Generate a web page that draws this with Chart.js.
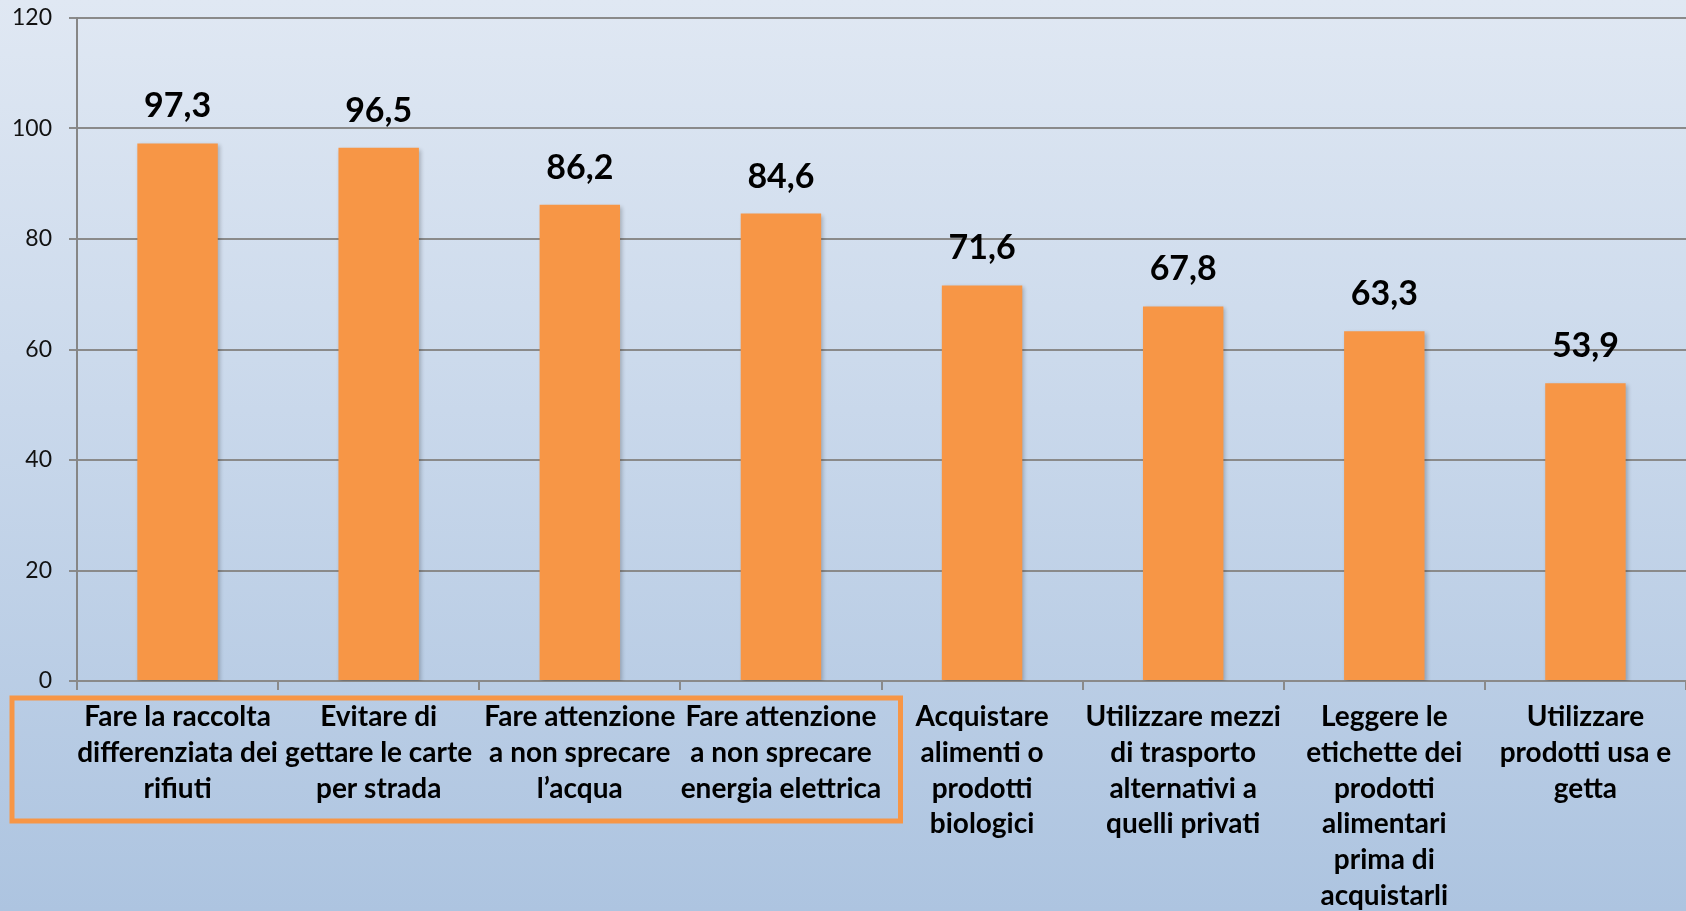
<!DOCTYPE html>
<html>
<head>
<meta charset="utf-8">
<script src="https://cdn.jsdelivr.net/npm/chart.js@4"></script>
<style>
  html, body { margin: 0; padding: 0; }
  body {
    width: 1686px; height: 911px; overflow: hidden;
    background: linear-gradient(to bottom, #e0e8f3 0%, #c9d8eb 45%, #adc4e0 100%);
  }
  canvas { display: block; }
</style>
</head>
<body>
<canvas id="chart" width="1686" height="911"></canvas>
<script>
// --- Data ---
const categories = [
  ["Fare la raccolta", "differenziata dei", "rifiuti"],
  ["Evitare di", "gettare le carte", "per strada"],
  ["Fare attenzione", "a non sprecare", "l\u2019acqua"],
  ["Fare attenzione", "a non sprecare", "energia elettrica"],
  ["Acquistare", "alimenti o", "prodotti", "biologici"],
  ["Utilizzare mezzi", "di trasporto", "alternativi a", "quelli privati"],
  ["Leggere le", "etichette dei", "prodotti", "alimentari", "prima di", "acquistarli"],
  ["Utilizzare", "prodotti usa e", "getta"]
];
const values = [97.3, 96.5, 86.2, 84.6, 71.6, 67.8, 63.3, 53.9];
const yTicks = [0, 20, 40, 60, 80, 100, 120];

const fontFamily = "Lato, 'Open Sans', sans-serif";

// value labels above the bars, comma decimals
const valueLabels = {
  id: 'valueLabels',
  afterDatasetsDraw(chart) {
    const ctx = chart.ctx;
    const meta = chart.getDatasetMeta(0);
    ctx.save();
    ctx.font = "bold 34px " + fontFamily;
    ctx.fillStyle = '#000';
    ctx.textAlign = 'center';
    ctx.textBaseline = 'bottom';
    meta.data.forEach((bar, i) => {
      ctx.fillText(values[i].toFixed(1).replace('.', ','), bar.x, bar.y - 20);
    });
    ctx.restore();
  }
};

// bar shadow
const barShadow = {
  id: 'barShadow',
  beforeDatasetsDraw(chart) {
    const ctx = chart.ctx;
    ctx.save();
    ctx.shadowColor = 'rgba(0,0,0,0.22)';
    ctx.shadowBlur = 4;
    ctx.shadowOffsetX = 2;
    ctx.shadowOffsetY = 2;
  },
  afterDatasetsDraw(chart) {
    chart.ctx.restore();
  }
};

// orange box around the first four categories
const highlightBox = {
  id: 'highlightBox',
  afterDraw(chart) {
    const ctx = chart.ctx;
    const x = chart.scales.x;
    const half = (x.getPixelForValue(1) - x.getPixelForValue(0)) / 2;
    const left = chart.chartArea.left - 65;
    const right = x.getPixelForValue(3) + half + 19;
    const top = chart.chartArea.bottom + 17;
    const bottom = chart.chartArea.bottom + 140;
    ctx.save();
    ctx.strokeStyle = '#f79646';
    ctx.lineWidth = 5;
    ctx.strokeRect(left, top, right - left, bottom - top);
    ctx.restore();
  }
};

const ctx = document.getElementById('chart').getContext('2d');
new Chart(ctx, {
  type: 'bar',
  data: {
    labels: categories,
    datasets: [{
      data: values,
      backgroundColor: '#f79646',
      borderWidth: 0,
      barPercentage: 0.4,
      categoryPercentage: 1.0
    }]
  },
  options: {
    responsive: false,
    animation: false,
    devicePixelRatio: 1,
    layout: { padding: { top: 18, right: 0, left: 0, bottom: 0 } },
    plugins: {
      legend: { display: false },
      tooltip: { enabled: false }
    },
    scales: {
      y: {
        min: 0,
        max: 120,
        afterBuildTicks(scale) {
          scale.ticks = yTicks.map(v => ({ value: v }));
        },
        afterFit(scale) {
          scale.width = 77;
          scale.paddingTop = 0;
          scale.paddingBottom = 0;
        },
        border: { color: '#868686', width: 2 },
        grid: { color: '#8a8a8a', lineWidth: 2, tickLength: 8 },
        ticks: {
          color: '#111',
          padding: 17,
          font: { family: fontFamily, size: 23 }
        }
      },
      x: {
        afterFit(scale) { scale.height = 230; },
        border: { color: '#8a8a8a', width: 2 },
        grid: { drawOnChartArea: false, color: '#8a8a8a', lineWidth: 2, tickLength: 9, offset: true },
        ticks: {
          autoSkip: false,
          maxRotation: 0,
          minRotation: 0,
          color: '#000',
          padding: 9,
          font: { family: fontFamily, size: 28, weight: 'bold', lineHeight: 1.28 }
        }
      }
    }
  },
  plugins: [barShadow, valueLabels, highlightBox]
});
</script>
</body>
</html>
